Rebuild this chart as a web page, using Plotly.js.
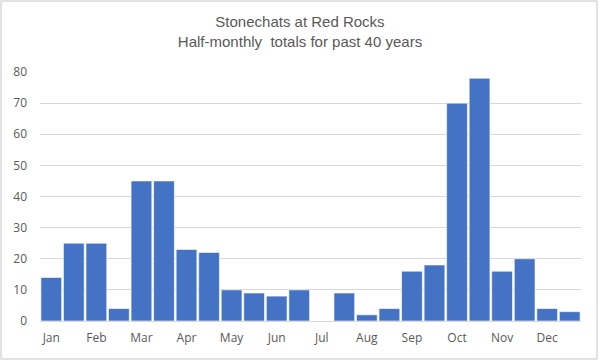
<!DOCTYPE html>
<html>
<head>
<meta charset="utf-8">
<script src="https://cdn.plot.ly/plotly-3.0.1.min.js"></script>
<style>html,body{margin:0;padding:0;background:#fff;}#chart{width:600px;height:361px;}</style>
</head>
<body>
<div id="chart"></div>
<script>
const halfMonths = ["Jan 1","Jan 2","Feb 1","Feb 2","Mar 1","Mar 2","Apr 1","Apr 2","May 1","May 2","Jun 1","Jun 2",
                    "Jul 1","Jul 2","Aug 1","Aug 2","Sep 1","Sep 2","Oct 1","Oct 2","Nov 1","Nov 2","Dec 1","Dec 2"];
const totals = [14,25,25,4,45,45,23,22,10,9,8,10,0,9,2,4,16,18,70,78,16,20,4,3];
const monthLabels = ["Jan","Feb","Mar","Apr","May","Jun","Jul","Aug","Sep","Oct","Nov","Dec"];
const yTicks = [0,10,20,30,40,50,60,70,80];

const tickvals = monthLabels.map((m,i)=>halfMonths[i*2]);

const trace = {
  type: 'bar',
  x: halfMonths,
  y: totals,
  marker: {color: '#4472C4', line: {color: '#ffffff', width: 0.6}},
  hoverinfo: 'x+y'
};

const layout = {
  width: 600, height: 361,
  margin: {l: 40, r: 19, t: 72, b: 40},
  paper_bgcolor: '#fff', plot_bgcolor: '#fff',
  showlegend: false,
  bargap: 0.08,
  title: {
    text: 'Stonechats at Red Rocks<br>Half-monthly  totals for past 40 years',
    font: {family: 'Liberation Sans, Arial, sans-serif', size: 15, color: '#595959'},
    x: 0.5, xanchor: 'center', y: 0.925, yanchor: 'top', yref: 'container'
  },
  xaxis: {
    type: 'category',
    categoryorder: 'array', categoryarray: halfMonths,
    range: [-0.5, 23.5],
    tickmode: 'array', tickvals: tickvals, ticktext: monthLabels,
    tickfont: {family: 'Open Sans, Noto Sans, sans-serif', size: 12, color: '#595959'},
    ticks: '', showgrid: false, zeroline: false,
    showline: true, linecolor: '#D9D9D9', linewidth: 1,
    ticklabelstandoff: 6
  },
  yaxis: {
    range: [0, 80],
    tickmode: 'array', tickvals: yTicks,
    tickfont: {family: 'Open Sans, Noto Sans, sans-serif', size: 12, color: '#595959'},
    showgrid: true, gridcolor: '#D9D9D9', gridwidth: 1,
    zeroline: false, showline: false, ticks: '',
    ticklabelstandoff: 12
  },
  shapes: [{
    type: 'rect', xref: 'paper', yref: 'paper',
    x0: -39/541, x1: 557/541, y0: -38/249, y1: 320/249,
    line: {color: '#D9D9D9', width: 1.5}, fillcolor: 'rgba(0,0,0,0)', layer: 'below'
  }]
};

Plotly.newPlot('chart', [trace], layout, {displayModeBar: false, staticPlot: true});
</script>
</body>
</html>
